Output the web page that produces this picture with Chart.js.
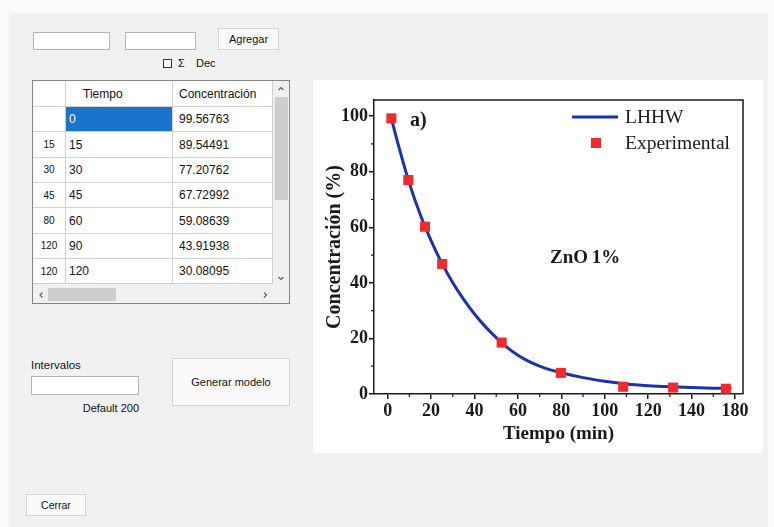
<!DOCTYPE html>
<html>
<head>
<meta charset="utf-8">
<title>Modelo LHHW</title>
<script src="https://cdn.jsdelivr.net/npm/chart.js@4/dist/chart.umd.min.js"></script>
<style>
  html, body { margin: 0; padding: 0; width: 774px; height: 527px; overflow: hidden; background: #fbfbfb;
    font-family: "Liberation Sans", Arial, sans-serif; color: #111; }
  .win { position: absolute; left: 9px; top: 13px; width: 759px; height: 514px; background: #f1f1f1; }
  .box { position: absolute; box-sizing: border-box; }
  .tb { position: absolute; box-sizing: border-box; background: #fff; border: 1px solid #b4b4b4; }
  .btn { position: absolute; box-sizing: border-box; background: #fafafa; border: 1px solid #d4d4d4;
    display: flex; align-items: center; justify-content: center; font-size: 11px; color: #111; }
  .lbl { position: absolute; font-size: 11px; line-height: 14px; white-space: nowrap; }
  .cell { position: absolute; box-sizing: border-box; border-right: 1px solid #d0d0d0; border-bottom: 1px solid #d0d0d0;
    background: #fff; font-size: 12px; display: flex; align-items: center; white-space: nowrap; overflow: hidden; }
  .rh { font-size: 10px; justify-content: center; }
  .sel { background: #1b74cc; color: #fff; }
  #panel { position: absolute; left: 313px; top: 80px; width: 450px; height: 373px; background: #fff; }
  #chart { display: block; }
</style>
</head>
<body>
<div class="win"></div>

<!-- top input row -->
<div class="tb" style="left:33px;top:32px;width:77px;height:18px;"></div>
<div class="tb" style="left:125px;top:32px;width:71px;height:18px;"></div>
<div class="btn" style="left:218px;top:28px;width:61px;height:22px;">Agregar</div>
<div class="box" style="left:163px;top:59px;width:9px;height:9px;border:1px solid #333;background:#fff;"></div>
<div class="lbl" style="left:178px;top:56px;">Σ</div>
<div class="lbl" style="left:196px;top:56px;">Dec</div>

<!-- data grid -->
<div id="grid"></div>

<!-- model controls -->
<div class="lbl" style="left:31px;top:358px;font-size:11.5px;">Intervalos</div>
<div class="tb" style="left:31px;top:376px;width:108px;height:19px;"></div>
<div class="lbl" style="left:81px;top:401px;width:58px;text-align:right;">Default 200</div>
<div class="btn" style="left:172px;top:358px;width:118px;height:48px;">Generar modelo</div>
<div class="btn" style="left:26px;top:494px;width:60px;height:22px;font-size:10.5px;">Cerrar</div>

<div id="panel"><canvas id="chart" width="450" height="373"></canvas></div>

<script>
// ---- grid contents ----
const rowHeaders = ['', '15', '30', '45', '80', '120', '120'];
const gridTiempo = ['0', '15', '30', '45', '60', '90', '120'];
const gridConc = ['99.56763', '89.54491', '77.20762', '67.72992', '59.08639', '43.91938', '30.08095'];

// ---- chart series ----
const expTime = [1.7, 9.5, 17.2, 25.1, 52.5, 79.8, 108.5, 131.5, 155.8];
const expConc = [99.2, 77.0, 60.2, 46.8, 18.5, 7.6, 2.6, 2.3, 1.9];
const lhhwTime = [1.7, 5, 10, 15, 20, 25, 30, 35, 40, 45, 50, 55, 60, 65, 70, 75, 80, 90, 100, 110, 120, 130, 140, 150, 158.4];
const lhhwConc = [99.2, 89.4, 75.8, 64.6, 55.2, 47.0, 40.05, 34.05, 28.8, 24.25, 20.3, 16.8, 13.95, 11.75, 10.05, 8.7, 7.65, 5.9, 4.6, 3.6, 3.0, 2.6, 2.3, 2.1, 2.0];
const xTickLabels = ['0', '20', '40', '60', '80', '100', '120', '140', '180'];
const yTickLabels = ['0', '20', '40', '60', '80', '100'];

// ---- build the grid ----
(function buildGrid() {
  const g = document.getElementById('grid');
  const add = (html) => g.insertAdjacentHTML('beforeend', html);
  add('<div class="box" style="left:32px;top:80px;width:258px;height:224px;border:1px solid #858585;background:#f0f0f0;"></div>');
  // header
  add(`<div class="cell" style="left:33px;top:81px;width:33px;height:26px;"></div>`);
  add(`<div class="cell" style="left:66px;top:81px;width:107px;height:26px;padding-left:17px;">Tiempo</div>`);
  add(`<div class="cell" style="left:173px;top:81px;width:100px;height:26px;padding-left:6px;">Concentración</div>`);
  const rowH = 25.35;
  for (let i = 0; i < gridTiempo.length; i++) {
    const top = 107 + i * rowH;
    const h = Math.min(rowH, 285 - top);
    add(`<div class="cell rh" style="left:33px;top:${top}px;width:33px;height:${h}px;">${rowHeaders[i]}</div>`);
    add(`<div class="cell${i === 0 ? ' sel' : ''}" style="left:66px;top:${top}px;width:107px;height:${h}px;padding-left:3px;">${gridTiempo[i]}</div>`);
    add(`<div class="cell" style="left:173px;top:${top}px;width:100px;height:${h}px;padding-left:6px;">${gridConc[i]}</div>`);
  }
  // scrollbars
  add('<div class="box" style="left:273px;top:81px;width:16px;height:222px;background:#f0f0f0;"></div>');
  add('<div class="box" style="left:275px;top:97px;width:13px;height:103px;background:#cdcdcd;"></div>');
  add('<div class="box" style="left:33px;top:285px;width:240px;height:18px;background:#f0f0f0;"></div>');
  add('<div class="box" style="left:48px;top:288px;width:68px;height:13px;background:#cdcdcd;"></div>');
  add(`<svg class="box" style="left:0;top:0;" width="300" height="310">
    <g fill="none" stroke="#606060" stroke-width="1.2">
      <polyline points="278.5,90 281,87.5 283.5,90"/>
      <polyline points="278.5,277 281,279.5 283.5,277"/>
      <polyline points="42.5,292.5 40,295 42.5,297.5"/>
      <polyline points="264,292.5 266.5,295 264,297.5"/>
    </g></svg>`);
})();

// ---- chart ----
const chartFont = '"Liberation Serif", "Times New Roman", serif';
const ink = '#1a1a1a';

const decorations = {
  id: 'decorations',
  afterDraw(chart) {
    const { ctx, chartArea: a, scales: { x, y } } = chart;
    ctx.save();
    // frame (top and right sides)
    ctx.strokeStyle = ink;
    ctx.lineWidth = 1.5;
    ctx.beginPath();
    ctx.moveTo(a.left, a.top); ctx.lineTo(a.right, a.top); ctx.lineTo(a.right, a.bottom);
    ctx.stroke();
    // minor ticks
    ctx.lineWidth = 1.2;
    ctx.beginPath();
    for (let v = 10; v < x.max; v += 20) {
      const px = x.getPixelForValue(v);
      ctx.moveTo(px, a.bottom); ctx.lineTo(px, a.bottom + 3);
    }
    for (let v = 10; v < y.max; v += 20) {
      const py = y.getPixelForValue(v);
      ctx.moveTo(a.left, py); ctx.lineTo(a.left - 3, py);
    }
    ctx.stroke();

    // panel label and sample name
    ctx.fillStyle = ink;
    ctx.textBaseline = 'middle';
    ctx.textAlign = 'left';
    ctx.font = 'bold 20px ' + chartFont;
    ctx.fillText('a)', a.left + 36, a.top + 21);
    ctx.font = 'bold 19px ' + chartFont;
    ctx.fillText('ZnO\u20091%', a.left + 176, a.top + 158);

    // legend
    const [dsExp, dsLine] = chart.data.datasets;
    const lx = a.right - 171, ly1 = a.top + 17, ly2 = a.top + 43;
    ctx.strokeStyle = dsLine.borderColor;
    ctx.lineWidth = dsLine.borderWidth;
    ctx.beginPath(); ctx.moveTo(lx, ly1); ctx.lineTo(lx + 46, ly1); ctx.stroke();
    ctx.fillStyle = dsExp.backgroundColor;
    ctx.fillRect(lx + 19, ly2 - 5, 10, 10);
    ctx.fillStyle = ink;
    ctx.font = '19.5px ' + chartFont;
    ctx.fillText(dsLine.label, lx + 53, ly1 + 1);
    ctx.fillText(dsExp.label, lx + 53, ly2 + 1);
    ctx.restore();
  }
};

const tickFont = { family: chartFont, size: 18, weight: 'bold' };
const titleFont = { family: chartFont, size: 19, weight: 'bold' };

new Chart(document.getElementById('chart'), {
  type: 'scatter',
  data: {
    datasets: [
      {
        label: 'Experimental',
        data: expTime.map((t, i) => ({ x: t, y: expConc[i] })),
        pointStyle: 'rect',
        pointRadius: 7.1,
        backgroundColor: '#f22a2c',
        borderWidth: 0,
        order: 0
      },
      {
        label: 'LHHW',
        type: 'line',
        data: lhhwTime.map((t, i) => ({ x: t, y: lhhwConc[i] })),
        borderColor: '#1c31ad',
        borderWidth: 3,
        pointRadius: 0,
        fill: false,
        cubicInterpolationMode: 'monotone',
        order: 1
      }
    ]
  },
  options: {
    responsive: false,
    animation: false,
    events: [],
    layout: { padding: { left: 0, top: 20, right: 20, bottom: 0 } },
    plugins: { legend: { display: false }, tooltip: { enabled: false } },
    scales: {
      x: {
        type: 'linear',
        min: -6.3,
        max: 163.7,
        afterFit: (s) => { s.height = 59; },
        border: { display: true, color: ink, width: 1.5 },
        grid: { display: true, drawOnChartArea: false, drawTicks: true, tickLength: 5, color: ink, lineWidth: 1.5 },
        ticks: {
          stepSize: 20, includeBounds: false, autoSkip: false, maxRotation: 0, padding: 2,
          color: ink, font: tickFont,
          callback: (v) => xTickLabels[Math.round(v / 20)]
        },
        title: { display: true, text: 'Tiempo (min)', color: ink, font: titleFont, padding: { top: 0, bottom: 8 } }
      },
      y: {
        type: 'linear',
        min: 0,
        max: 105.8,
        afterFit: (s) => { s.width = 61; },
        border: { display: true, color: ink, width: 1.5 },
        grid: { display: true, drawOnChartArea: false, drawTicks: true, tickLength: 5, color: ink, lineWidth: 1.5 },
        ticks: {
          stepSize: 20, includeBounds: false, autoSkip: false, padding: 1,
          color: ink, font: tickFont,
          callback: (v) => yTickLabels[Math.round(v / 20)]
        },
        title: { display: true, text: 'Concentración (%)', color: ink, font: { family: chartFont, size: 20, weight: 'bold' }, padding: { top: 10, bottom: 0 } }
      }
    }
  },
  plugins: [decorations]
});
</script>
</body>
</html>
